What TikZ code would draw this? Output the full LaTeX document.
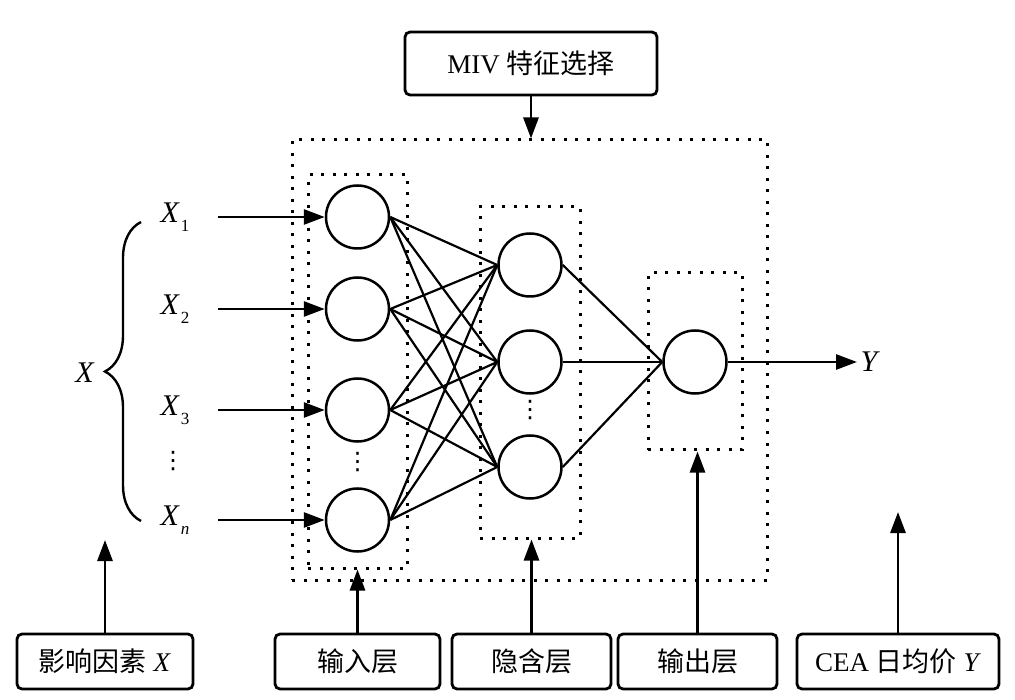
\documentclass[tikz,border=0pt]{standalone}
\usepackage{fontspec}
\setmainfont{Liberation Serif}
\newfontfamily\cjk{Noto Sans CJK SC}
\newfontfamily\sym{DejaVu Sans}
\usetikzlibrary{arrows.meta,decorations.pathreplacing}
\tikzset{>={Triangle[length=21pt,width=15pt]}, % filled triangle tips
  box/.style={draw, line width=2.8pt, rounded corners=5pt, minimum height=55pt,
    inner sep=0pt, font=\fontsize{27}{30}\selectfont},
  layer/.style={draw, line width=3pt, dash pattern=on 3pt off 8.5pt, inner sep=0pt},
  neuron/.style={circle, draw, line width=2.5pt, minimum size=63pt, inner sep=0pt},
  link/.style={line width=2.2pt},
  feed/.style={line width=2.8pt, ->},
  var/.style={font=\fontsize{30}{32}\selectfont},
  dots/.style={font=\sym\fontsize{24}{24}\selectfont, inner sep=0pt},
}
\newcommand\xsub[2]{\textit{#1}\kern1pt\raisebox{-.3em}{\fontsize{17}{18}\selectfont #2}}

\begin{document}
\begin{tikzpicture}[x=1pt,y=-1pt]
  \useasboundingbox (0,0) rectangle (1015,700);

  % dotted frames
  \node[layer, minimum width=475pt, minimum height=440pt] (net) at (529.5,360) {};
  \node[layer, minimum width=99pt, minimum height=393pt] (inbox) at (357.5,371.5) {};
  \node[layer, minimum width=100pt, minimum height=331pt] (hidbox) at (530,372.5) {};
  \node[layer, minimum width=94pt, minimum height=177pt] (outbox) at (695,361.5) {};

  % neurons
  \foreach \i/\s/\y in {1/1/217,2/2/309,3/3/410,4/\textit{n}/520} {
    \node[neuron] (i\i) at (357.5,\y) {};
    \node[var] (x\i) at (175,\y) {\xsub{X}{\s}};
    \draw[feed] (x\i.center) ++(43,0) -- (i\i);
  }
  \foreach \j/\y in {1/265,2/362,3/467}
    \node[neuron] (h\j) at (530,\y) {};
  \node[neuron] (o) at (695,362) {};

  \node[dots] (vx) at (173,461) {⋮};
  \node[dots] (vi) at (357.5,462) {⋮};
  \node[dots] (vh) at (530,410) {⋮};

  \foreach \i in {1,...,4}
    \foreach \j in {1,2,3}
      \draw[link] (i\i.east) -- (h\j.west);
  \foreach \j in {1,2,3}
    \draw[link] (h\j.east) -- (o.west);

  \coordinate (yend) at (857,362);
  \draw[feed] (o) -- (yend);
  \node[var, right] (y) at (yend) {\textit{Y}};

  % brace over the inputs
  \coordinate (btop) at (141,222);
  \coordinate (bbot) at (141,521);
  \draw[line width=2.4pt, decorate, decoration={brace, amplitude=36pt}] (bbot) -- (btop);
  \node[var] (xall) at (85,373) {\textit{X}};

  % labels
  \node[box, minimum width=252pt, minimum height=63pt] (miv) at (531,63.5)
    {MIV {\cjk 特征选择}};
  \draw[feed] (miv.south) -- (miv.south |- net.north);

  \node[box, minimum width=176pt] (infl) at (105,661.5) {{\cjk 影响因素} \textit{X}};
  \node[box, minimum width=165pt] (inl) at (357.5,661.5) {\cjk 输入层};
  \node[box, minimum width=159pt] (hidl) at (531.5,661.5) {\cjk 隐含层};
  \node[box, minimum width=159pt] (outl) at (697.5,661.5) {\cjk 输出层};
  \node[box, minimum width=202pt] (cea) at (898,661.5) {CEA {\cjk 日均价} \textit{Y}};

  \coordinate (xin) at (105,540);
  \coordinate (yin) at (898,512);
  \draw[feed] (infl) -- (xin);
  \draw[feed] (inl.north) -- (inl.north |- inbox.south);
  \draw[feed] (hidl.north) -- (hidl.north |- hidbox.south);
  \draw[feed] (outl.north) -- (outl.north |- outbox.south);
  \draw[feed] (cea) -- (yin);
\end{tikzpicture}
\end{document}
